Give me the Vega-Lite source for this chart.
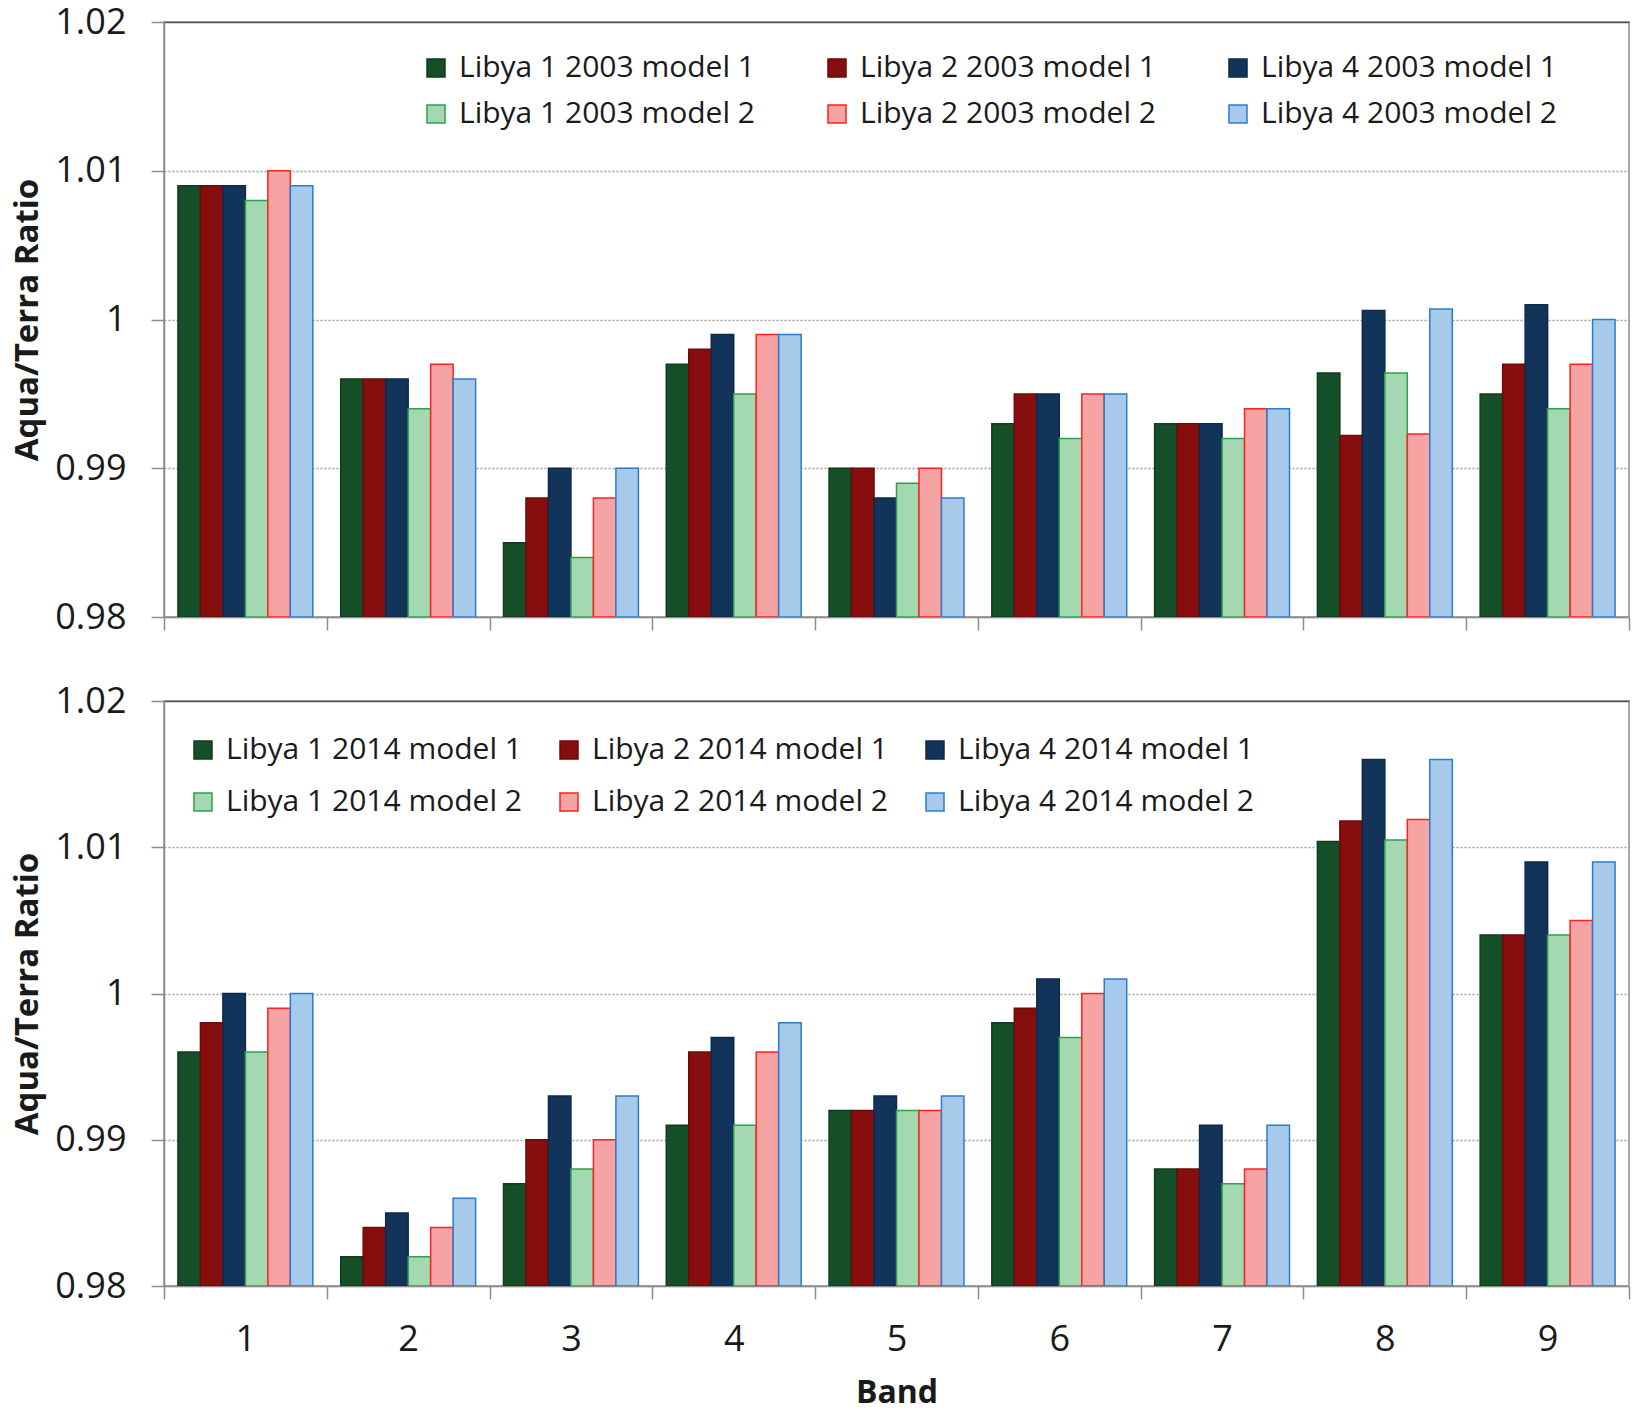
{
  "$schema": "https://vega.github.io/schema/vega-lite/v6.json",
  "background": "white",
  "padding": {"left": 11, "top": 3, "right": 3, "bottom": 2},
  "datasets": {
    "d2003": [
      {"b": 1, "s": "Libya 1 2003 model 1", "v": 1.009}, {"b": 2, "s": "Libya 1 2003 model 1", "v": 0.996}, {"b": 3, "s": "Libya 1 2003 model 1", "v": 0.985}, {"b": 4, "s": "Libya 1 2003 model 1", "v": 0.997}, {"b": 5, "s": "Libya 1 2003 model 1", "v": 0.990}, {"b": 6, "s": "Libya 1 2003 model 1", "v": 0.993}, {"b": 7, "s": "Libya 1 2003 model 1", "v": 0.993}, {"b": 8, "s": "Libya 1 2003 model 1", "v": 0.9964}, {"b": 9, "s": "Libya 1 2003 model 1", "v": 0.995},
      {"b": 1, "s": "Libya 2 2003 model 1", "v": 1.009}, {"b": 2, "s": "Libya 2 2003 model 1", "v": 0.996}, {"b": 3, "s": "Libya 2 2003 model 1", "v": 0.988}, {"b": 4, "s": "Libya 2 2003 model 1", "v": 0.998}, {"b": 5, "s": "Libya 2 2003 model 1", "v": 0.990}, {"b": 6, "s": "Libya 2 2003 model 1", "v": 0.995}, {"b": 7, "s": "Libya 2 2003 model 1", "v": 0.993}, {"b": 8, "s": "Libya 2 2003 model 1", "v": 0.9922}, {"b": 9, "s": "Libya 2 2003 model 1", "v": 0.997},
      {"b": 1, "s": "Libya 4 2003 model 1", "v": 1.009}, {"b": 2, "s": "Libya 4 2003 model 1", "v": 0.996}, {"b": 3, "s": "Libya 4 2003 model 1", "v": 0.990}, {"b": 4, "s": "Libya 4 2003 model 1", "v": 0.999}, {"b": 5, "s": "Libya 4 2003 model 1", "v": 0.988}, {"b": 6, "s": "Libya 4 2003 model 1", "v": 0.995}, {"b": 7, "s": "Libya 4 2003 model 1", "v": 0.993}, {"b": 8, "s": "Libya 4 2003 model 1", "v": 1.0006}, {"b": 9, "s": "Libya 4 2003 model 1", "v": 1.001},
      {"b": 1, "s": "Libya 1 2003 model 2", "v": 1.008}, {"b": 2, "s": "Libya 1 2003 model 2", "v": 0.994}, {"b": 3, "s": "Libya 1 2003 model 2", "v": 0.984}, {"b": 4, "s": "Libya 1 2003 model 2", "v": 0.995}, {"b": 5, "s": "Libya 1 2003 model 2", "v": 0.989}, {"b": 6, "s": "Libya 1 2003 model 2", "v": 0.992}, {"b": 7, "s": "Libya 1 2003 model 2", "v": 0.992}, {"b": 8, "s": "Libya 1 2003 model 2", "v": 0.9964}, {"b": 9, "s": "Libya 1 2003 model 2", "v": 0.994},
      {"b": 1, "s": "Libya 2 2003 model 2", "v": 1.010}, {"b": 2, "s": "Libya 2 2003 model 2", "v": 0.997}, {"b": 3, "s": "Libya 2 2003 model 2", "v": 0.988}, {"b": 4, "s": "Libya 2 2003 model 2", "v": 0.999}, {"b": 5, "s": "Libya 2 2003 model 2", "v": 0.990}, {"b": 6, "s": "Libya 2 2003 model 2", "v": 0.995}, {"b": 7, "s": "Libya 2 2003 model 2", "v": 0.994}, {"b": 8, "s": "Libya 2 2003 model 2", "v": 0.9923}, {"b": 9, "s": "Libya 2 2003 model 2", "v": 0.997},
      {"b": 1, "s": "Libya 4 2003 model 2", "v": 1.009}, {"b": 2, "s": "Libya 4 2003 model 2", "v": 0.996}, {"b": 3, "s": "Libya 4 2003 model 2", "v": 0.990}, {"b": 4, "s": "Libya 4 2003 model 2", "v": 0.999}, {"b": 5, "s": "Libya 4 2003 model 2", "v": 0.988}, {"b": 6, "s": "Libya 4 2003 model 2", "v": 0.995}, {"b": 7, "s": "Libya 4 2003 model 2", "v": 0.994}, {"b": 8, "s": "Libya 4 2003 model 2", "v": 1.0007}, {"b": 9, "s": "Libya 4 2003 model 2", "v": 1.000}
    ],
    "d2014": [
      {"b": 1, "s": "Libya 1 2014 model 1", "v": 0.996}, {"b": 2, "s": "Libya 1 2014 model 1", "v": 0.982}, {"b": 3, "s": "Libya 1 2014 model 1", "v": 0.987}, {"b": 4, "s": "Libya 1 2014 model 1", "v": 0.991}, {"b": 5, "s": "Libya 1 2014 model 1", "v": 0.992}, {"b": 6, "s": "Libya 1 2014 model 1", "v": 0.998}, {"b": 7, "s": "Libya 1 2014 model 1", "v": 0.988}, {"b": 8, "s": "Libya 1 2014 model 1", "v": 1.0104}, {"b": 9, "s": "Libya 1 2014 model 1", "v": 1.004},
      {"b": 1, "s": "Libya 2 2014 model 1", "v": 0.998}, {"b": 2, "s": "Libya 2 2014 model 1", "v": 0.984}, {"b": 3, "s": "Libya 2 2014 model 1", "v": 0.990}, {"b": 4, "s": "Libya 2 2014 model 1", "v": 0.996}, {"b": 5, "s": "Libya 2 2014 model 1", "v": 0.992}, {"b": 6, "s": "Libya 2 2014 model 1", "v": 0.999}, {"b": 7, "s": "Libya 2 2014 model 1", "v": 0.988}, {"b": 8, "s": "Libya 2 2014 model 1", "v": 1.0118}, {"b": 9, "s": "Libya 2 2014 model 1", "v": 1.004},
      {"b": 1, "s": "Libya 4 2014 model 1", "v": 1.000}, {"b": 2, "s": "Libya 4 2014 model 1", "v": 0.985}, {"b": 3, "s": "Libya 4 2014 model 1", "v": 0.993}, {"b": 4, "s": "Libya 4 2014 model 1", "v": 0.997}, {"b": 5, "s": "Libya 4 2014 model 1", "v": 0.993}, {"b": 6, "s": "Libya 4 2014 model 1", "v": 1.001}, {"b": 7, "s": "Libya 4 2014 model 1", "v": 0.991}, {"b": 8, "s": "Libya 4 2014 model 1", "v": 1.016}, {"b": 9, "s": "Libya 4 2014 model 1", "v": 1.009},
      {"b": 1, "s": "Libya 1 2014 model 2", "v": 0.996}, {"b": 2, "s": "Libya 1 2014 model 2", "v": 0.982}, {"b": 3, "s": "Libya 1 2014 model 2", "v": 0.988}, {"b": 4, "s": "Libya 1 2014 model 2", "v": 0.991}, {"b": 5, "s": "Libya 1 2014 model 2", "v": 0.992}, {"b": 6, "s": "Libya 1 2014 model 2", "v": 0.997}, {"b": 7, "s": "Libya 1 2014 model 2", "v": 0.987}, {"b": 8, "s": "Libya 1 2014 model 2", "v": 1.0105}, {"b": 9, "s": "Libya 1 2014 model 2", "v": 1.004},
      {"b": 1, "s": "Libya 2 2014 model 2", "v": 0.999}, {"b": 2, "s": "Libya 2 2014 model 2", "v": 0.984}, {"b": 3, "s": "Libya 2 2014 model 2", "v": 0.990}, {"b": 4, "s": "Libya 2 2014 model 2", "v": 0.996}, {"b": 5, "s": "Libya 2 2014 model 2", "v": 0.992}, {"b": 6, "s": "Libya 2 2014 model 2", "v": 1.000}, {"b": 7, "s": "Libya 2 2014 model 2", "v": 0.988}, {"b": 8, "s": "Libya 2 2014 model 2", "v": 1.0119}, {"b": 9, "s": "Libya 2 2014 model 2", "v": 1.005},
      {"b": 1, "s": "Libya 4 2014 model 2", "v": 1.000}, {"b": 2, "s": "Libya 4 2014 model 2", "v": 0.986}, {"b": 3, "s": "Libya 4 2014 model 2", "v": 0.993}, {"b": 4, "s": "Libya 4 2014 model 2", "v": 0.998}, {"b": 5, "s": "Libya 4 2014 model 2", "v": 0.993}, {"b": 6, "s": "Libya 4 2014 model 2", "v": 1.001}, {"b": 7, "s": "Libya 4 2014 model 2", "v": 0.991}, {"b": 8, "s": "Libya 4 2014 model 2", "v": 1.016}, {"b": 9, "s": "Libya 4 2014 model 2", "v": 1.009}
    ]
  },
  "spacing": 84,
  "bounds": "flush",
  "vconcat": [
    {
      "width": 1465,
      "height": 595,
      "data": {"name": "d2003"},
      "mark": {"type": "bar", "strokeWidth": 1.5, "clip": true},
      "encoding": {
        "x": {"field": "b", "type": "ordinal", "scale": {"paddingInner": 0, "paddingOuter": 0},
              "axis": {"labels": false, "title": null, "tickBand": "extent"}},
        "xOffset": {"field": "s", "type": "nominal",
              "scale": {"domain": ["Libya 1 2003 model 1", "Libya 2 2003 model 1", "Libya 4 2003 model 1", "Libya 1 2003 model 2", "Libya 2 2003 model 2", "Libya 4 2003 model 2"], "paddingInner": 0, "paddingOuter": 0.62}},
        "y": {"field": "v", "type": "quantitative",
              "scale": {"domain": [0.98, 1.02], "nice": false, "zero": false},
              "axis": {"values": [0.98, 0.99, 1, 1.01, 1.02], "format": "~g", "title": "Aqua/Terra Ratio"}},
        "y2": {"datum": 0.98},
        "fill": {"field": "s", "type": "nominal",
              "scale": {"domain": ["Libya 1 2003 model 1", "Libya 2 2003 model 1", "Libya 4 2003 model 1", "Libya 1 2003 model 2", "Libya 2 2003 model 2", "Libya 4 2003 model 2"],
                        "range": ["#154f27", "#870e0e", "#12335a", "#a3d8b0", "#f6a3a3", "#a8caea"]},
              "legend": {"title": null, "orient": "none", "direction": "horizontal", "legendX": 257, "legendY": 31, "columns": 3, "symbolType": "square", "symbolSize": 324, "symbolStrokeWidth": 1.5, "labelFontSize": 30, "labelColor": "#1a1a1a", "labelOffset": 8, "columnPadding": 67, "rowPadding": 16, "gridAlign": "all", "labelLimit": 0}},
        "stroke": {"field": "s", "type": "nominal",
              "scale": {"domain": ["Libya 1 2003 model 1", "Libya 2 2003 model 1", "Libya 4 2003 model 1", "Libya 1 2003 model 2", "Libya 2 2003 model 2", "Libya 4 2003 model 2"],
                        "range": ["#0f3d1d", "#6e0a0a", "#0e2a4a", "#2ea04e", "#ff2020", "#2b7cd0"]},
              "legend": {"title": null, "orient": "none", "direction": "horizontal", "legendX": 257, "legendY": 31, "columns": 3, "symbolType": "square", "symbolSize": 324, "symbolStrokeWidth": 1.5, "labelFontSize": 30, "labelColor": "#1a1a1a", "labelOffset": 8, "columnPadding": 67, "rowPadding": 16, "gridAlign": "all", "labelLimit": 0}}
      }
    },
    {
      "width": 1465,
      "height": 585,
      "data": {"name": "d2014"},
      "mark": {"type": "bar", "strokeWidth": 1.5, "clip": true},
      "encoding": {
        "x": {"field": "b", "type": "ordinal", "scale": {"paddingInner": 0, "paddingOuter": 0},
              "axis": {"title": "Band", "tickBand": "extent", "labelAngle": 0}},
        "xOffset": {"field": "s", "type": "nominal",
              "scale": {"domain": ["Libya 1 2014 model 1", "Libya 2 2014 model 1", "Libya 4 2014 model 1", "Libya 1 2014 model 2", "Libya 2 2014 model 2", "Libya 4 2014 model 2"], "paddingInner": 0, "paddingOuter": 0.62}},
        "y": {"field": "v", "type": "quantitative",
              "scale": {"domain": [0.98, 1.02], "nice": false, "zero": false},
              "axis": {"values": [0.98, 0.99, 1, 1.01, 1.02], "format": "~g", "title": "Aqua/Terra Ratio"}},
        "y2": {"datum": 0.98},
        "fill": {"field": "s", "type": "nominal",
              "scale": {"domain": ["Libya 1 2014 model 1", "Libya 2 2014 model 1", "Libya 4 2014 model 1", "Libya 1 2014 model 2", "Libya 2 2014 model 2", "Libya 4 2014 model 2"],
                        "range": ["#154f27", "#870e0e", "#12335a", "#a3d8b0", "#f6a3a3", "#a8caea"]},
              "legend": {"title": null, "orient": "none", "direction": "horizontal", "legendX": 24, "legendY": 34, "columns": 3, "symbolType": "square", "symbolSize": 324, "symbolStrokeWidth": 1.5, "labelFontSize": 30, "labelColor": "#1a1a1a", "labelOffset": 8, "columnPadding": 32, "rowPadding": 22, "gridAlign": "all", "labelLimit": 0}},
        "stroke": {"field": "s", "type": "nominal",
              "scale": {"domain": ["Libya 1 2014 model 1", "Libya 2 2014 model 1", "Libya 4 2014 model 1", "Libya 1 2014 model 2", "Libya 2 2014 model 2", "Libya 4 2014 model 2"],
                        "range": ["#0f3d1d", "#6e0a0a", "#0e2a4a", "#2ea04e", "#ff2020", "#2b7cd0"]},
              "legend": {"title": null, "orient": "none", "direction": "horizontal", "legendX": 24, "legendY": 34, "columns": 3, "symbolType": "square", "symbolSize": 324, "symbolStrokeWidth": 1.5, "labelFontSize": 30, "labelColor": "#1a1a1a", "labelOffset": 8, "columnPadding": 32, "rowPadding": 22, "gridAlign": "all", "labelLimit": 0}}
      }
    }
  ],
  "resolve": {
    "scale": {"fill": "independent", "stroke": "independent", "xOffset": "independent"},
    "legend": {"fill": "independent", "stroke": "independent"}
  },
  "config": {
    "font": "Open Sans",
    "view": {"stroke": "#8c8c8c", "strokeWidth": 1.5},
    "axis": {
      "domainColor": "#8c8c8c",
      "domainWidth": 1.5,
      "tickColor": "#8c8c8c",
      "tickWidth": 1.5,
      "tickSize": 13,
      "labelFontSize": 36,
      "labelColor": "#1a1a1a",
      "titleFontSize": 33,
      "titleFontWeight": "bold",
      "titleColor": "#1a1a1a"
    },
    "axisY": {
      "labelPadding": 25,
      "titlePadding": 10,
      "grid": true,
      "gridColor": {"condition": {"test": "datum.value >= 1.015", "value": "#555555"}, "value": "#a0a0a0"},
      "gridDash": {"condition": {"test": "datum.value >= 1.015", "value": []}, "value": [2, 2]},
      "gridWidth": 1.5
    },
    "axisX": {
      "grid": false,
      "labelFontSize": 36,
      "labelPadding": 23,
      "titleFontSize": 32,
      "titlePadding": 20
    }
  }
}
